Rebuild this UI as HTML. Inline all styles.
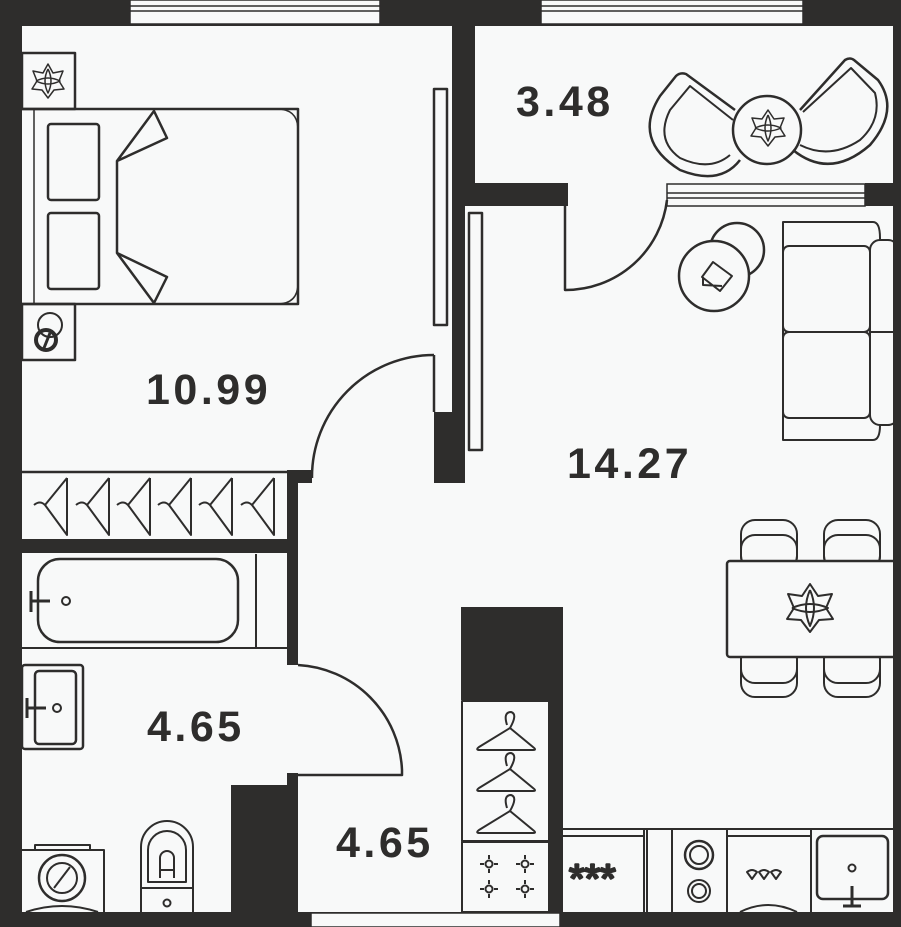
<!DOCTYPE html>
<html><head><meta charset="utf-8"><style>
html,body{margin:0;padding:0;background:#f8f9f9;}
svg{display:block}
text{font-family:"Liberation Sans",sans-serif;font-weight:bold;fill:#2e2d2c;letter-spacing:3.5px}
</style></head><body>
<svg width="901" height="927" viewBox="0 0 901 927" xmlns="http://www.w3.org/2000/svg">
<rect width="901" height="927" fill="#f8f9f9"/>
<g fill="#2e2d2c">
<rect x="0" y="0" width="22" height="927"/>
<rect x="0" y="0" width="901" height="26"/>
<rect x="893" y="0" width="8" height="927"/>
<rect x="0" y="912" width="901" height="15"/>
<rect x="452" y="26" width="23" height="180"/>
<rect x="452" y="206" width="13" height="277"/>
<rect x="434" y="412" width="30" height="71"/>
<rect x="475" y="183" width="93" height="23"/>
<rect x="865" y="183" width="28" height="23"/>
<rect x="287" y="470" width="25" height="13"/>
<rect x="287" y="470" width="11" height="195"/>
<rect x="22" y="539" width="276" height="14"/>
<rect x="287" y="773" width="11" height="139"/>
<rect x="231" y="785" width="67" height="127"/>
<rect x="461" y="607" width="102" height="93"/>
<rect x="549" y="700" width="14" height="212"/>
</g>
<g fill="#f8f9f9" stroke="#2e2d2c" stroke-width="1.5">
<rect x="130" y="0" width="250" height="24"/><line x1="130" y1="6" x2="380" y2="6"/><line x1="130" y1="11" x2="380" y2="11"/>
<rect x="541" y="0" width="262" height="24"/><line x1="541" y1="6" x2="803" y2="6"/><line x1="541" y1="11" x2="803" y2="11"/>
<rect x="667" y="184" width="198" height="22"/><line x1="667" y1="193" x2="865" y2="193"/><line x1="667" y1="198" x2="865" y2="198"/>
<rect x="311" y="913" width="249" height="14"/>
</g>
<g fill="none" stroke="#2e2d2c" stroke-width="2.5" stroke-linejoin="round">
<rect x="434" y="89" width="13" height="236"/>
<rect x="469" y="213" width="13" height="237"/>
<path d="M434 355 V412"/>
<path d="M434 355 A122 122 0 0 0 312 478"/>
<rect x="22" y="53" width="53" height="56"/><line x1="75" y1="53" x2="75" y2="109" stroke-width="1.2"/>
<rect x="22" y="304" width="53" height="56"/>
<path d="M22 109 H298 V304 H22"/><line x1="34" y1="109" x2="34" y2="304" stroke-width="1.5"/>
<path d="M277 109 Q298 109 298 130 M277 304 Q298 304 298 283" stroke-width="1.5"/>
<rect x="48" y="124" width="51" height="76" rx="3"/>
<rect x="48" y="213" width="51" height="76" rx="3"/>
<path d="M117 161 V253 M117 161 L154 111 L167 138 Z M117 253 L154 303 L167 277 Z"/>
<circle cx="50" cy="325" r="12" stroke-width="2"/><circle cx="46" cy="340" r="10" stroke-width="4"/><line x1="44" y1="348" x2="50" y2="333" stroke-width="3"/>
<g transform="translate(48,81)" stroke-width="1.5"><path d="M0 -17 L5 -8 L15 -10 L11 0 L16 8 L6 9 L0 17 L-6 9 L-16 8 L-11 0 L-15 -10 L-5 -8 Z"/><path d="M0 -12 Q6 0 0 12 Q-6 0 0 -12 M-12 0 Q0 -6 12 0 Q0 6 -12 0"/></g>
<path d="M22 472 H287"/>
<g stroke-width="2">
<path d="M67 478 V535 L45 505 Q40 500 34 505 M67 478 L45 505"/>
<path d="M109 478 V535 L87 505 Q82 500 76 505 M109 478 L87 505"/>
<path d="M150 478 V535 L128 505 Q123 500 117 505 M150 478 L128 505"/>
<path d="M191 478 V535 L169 505 Q164 500 158 505 M191 478 L169 505"/>
<path d="M232 478 V535 L210 505 Q205 500 199 505 M232 478 L210 505"/>
<path d="M274 478 V535 L252 505 Q247 500 241 505 M274 478 L252 505"/>
</g>
<path d="M22 648 H287 M256 554 V648" stroke-width="2"/>
<rect x="38" y="559" width="200" height="83" rx="22"/>
<path d="M31 591 V612 M31 601 H50" stroke-width="3"/><circle cx="66" cy="601" r="4" stroke-width="2"/>
<path d="M298 665 A110 110 0 0 1 402 770 V775 H298"/>
<rect x="22" y="665" width="61" height="84" rx="3"/><rect x="35" y="671" width="41" height="73" rx="4"/>
<path d="M27 698 V718 M27 708 H46" stroke-width="3"/><circle cx="57" cy="708" r="4" stroke-width="2"/>
<path d="M22 850 H104 V912 M35 850 V845 H90 V850" stroke-width="2"/>
<circle cx="62" cy="878" r="23"/><circle cx="62" cy="878" r="15" stroke-width="2"/><line x1="54" y1="888" x2="70" y2="867" stroke-width="2"/>
<path d="M26 912 Q62 900 98 912" stroke-width="2"/>
<path d="M141 912 V847 A26 26 0 0 1 193 847 V912 M141 888 H193" stroke-width="2"/>
<path d="M148 882 V850 A19 19 0 0 1 186 850 V882 Z" stroke-width="2"/>
<path d="M160 878 V858 A7 7 0 0 1 174 858 V878 M160 870 H174" stroke-width="2"/>
<circle cx="167" cy="903" r="3.5" stroke-width="2"/>
<circle cx="767" cy="130" r="34"/>
<g transform="translate(768,128)" stroke-width="1.5"><path d="M0 -18 L6 -9 L16 -10 L12 0 L17 8 L7 9 L0 18 L-7 9 L-17 8 L-12 0 L-16 -10 L-6 -9 Z"/><path d="M0 -13 Q6 0 0 13 Q-6 0 0 -13 M-13 0 Q0 -6 13 0 Q0 6 -13 0"/></g>
<path d="M735 110 L686 74 Q680 72 676 76 L660 96 Q632 140 680 170 Q720 186 740 160"/>
<path d="M733 120 L690 86 L670 110 Q655 140 680 158 Q710 172 730 155" stroke-width="2"/>
<path d="M800 110 L845 60 Q850 57 854 60 L878 80 Q900 110 870 145 Q830 180 793 150"/>
<path d="M803 112 L851 68 L875 93 Q882 120 860 140 Q830 160 800 145" stroke-width="2"/>
<path d="M565 206 V290 A102 102 0 0 0 667 200"/>
<circle cx="737" cy="250" r="27"/>
<circle cx="714" cy="276" r="35" fill="#f8f9f9"/>
<path d="M702 277 L713 262 L732 276 L720 291 Z M703 277 V285 L722 286" stroke-width="2"/>
<path d="M783 440 V222 H873 Q880 222 880 238 V425 Q880 440 873 440 Z" stroke-width="2"/>
<rect x="870" y="240" width="28" height="185" rx="10" stroke-width="2" fill="#f8f9f9"/>
<rect x="783" y="246" width="87" height="86" rx="6" stroke-width="2" fill="#f8f9f9"/>
<rect x="783" y="332" width="87" height="86" rx="6" stroke-width="2" fill="#f8f9f9"/>
<path d="M870 332 H893" stroke-width="2"/>
<rect x="893" y="230" width="8" height="210" fill="#2e2d2c" stroke="none"/>
<rect x="741" y="520" width="56" height="50" rx="14" stroke-width="2"/>
<rect x="741" y="535" width="56" height="35" rx="14" stroke-width="2"/>
<rect x="824" y="520" width="56" height="50" rx="14" stroke-width="2"/>
<rect x="824" y="535" width="56" height="35" rx="14" stroke-width="2"/>
<rect x="741" y="645" width="56" height="52" rx="14" stroke-width="2"/>
<rect x="741" y="645" width="56" height="38" rx="14" stroke-width="2"/>
<rect x="824" y="645" width="56" height="52" rx="14" stroke-width="2"/>
<rect x="824" y="645" width="56" height="38" rx="14" stroke-width="2"/>
<rect x="727" y="561" width="170" height="96" rx="3" fill="#f8f9f9"/>
<g transform="translate(810,608)" stroke-width="2"><path d="M0 -24 L8 -12 L22 -14 L16 0 L23 11 L9 12 L0 24 L-9 12 L-23 11 L-16 0 L-22 -14 L-8 -12 Z"/><path d="M0 -18 Q8 0 0 18 Q-8 0 0 -18 M-18 0 Q0 -8 18 0 Q0 8 -18 0"/></g>
<rect x="893" y="555" width="8" height="110" fill="#2e2d2c" stroke="none"/>
<rect x="462" y="701" width="87" height="140" stroke-width="2"/>
<rect x="462" y="842" width="87" height="70" stroke-width="2"/>
<g stroke-width="2">
<path d="M507 725 Q503 712 511 712 Q518 714 510 728 L479 747 Q475 750 480 750 H533 Q537 750 533 747 L510 728"/>
<path d="M507 766 Q503 753 511 753 Q518 755 510 769 L479 788 Q475 791 480 791 H533 Q537 791 533 788 L510 769"/>
<path d="M507 808 Q503 795 511 795 Q518 797 510 811 L479 830 Q475 833 480 833 H533 Q537 833 533 830 L510 811"/>
</g>
<g stroke-width="2">
<circle cx="489" cy="864" r="3.5"/><circle cx="525" cy="864" r="3.5"/><circle cx="489" cy="889" r="3.5"/><circle cx="525" cy="889" r="3.5"/>
<path d="M480 864 h4 M494 864 h4 M489 855 v4 M489 869 v4 M516 864 h4 M530 864 h4 M525 855 v4 M525 869 v4 M480 889 h4 M494 889 h4 M489 880 v4 M489 894 v4 M516 889 h4 M530 889 h4 M525 880 v4 M525 894 v4"/>
</g>
<path d="M563 829 H893 M563 836 H644 M727 836 H811 M644 829 V912 M647 829 V912 M672 829 V912 M727 829 V912 M811 829 V912" stroke-width="2"/>
<text x="569" y="892" style="font-size:40px;font-weight:normal;letter-spacing:0">***</text>
<circle cx="699" cy="855" r="14"/><circle cx="699" cy="855" r="9" stroke-width="2"/>
<circle cx="699" cy="891" r="11" stroke-width="2"/><circle cx="699" cy="891" r="7" stroke-width="2"/>
<path d="M747 872 Q752 868 757 872 L752 879 Z M759 872 Q764 868 769 872 L764 879 Z M771 872 Q776 868 781 872 L776 879 Z" stroke-width="2"/>
<path d="M740 912 Q768 898 797 912" stroke-width="2"/>
<rect x="817" y="836" width="71" height="63" rx="6"/>
<circle cx="852" cy="868" r="3.5" stroke-width="2"/>
<path d="M852 886 V906 M843 906 H861" stroke-width="3"/>
</g>
<text x="146" y="404" style="font-size:43px">10.99</text>
<text x="516" y="116" style="font-size:43px">3.48</text>
<text x="567" y="478" style="font-size:43px">14.27</text>
<text x="147" y="741" style="font-size:43px">4.65</text>
<text x="336" y="857" style="font-size:43px">4.65</text>
</svg>
</body></html>
